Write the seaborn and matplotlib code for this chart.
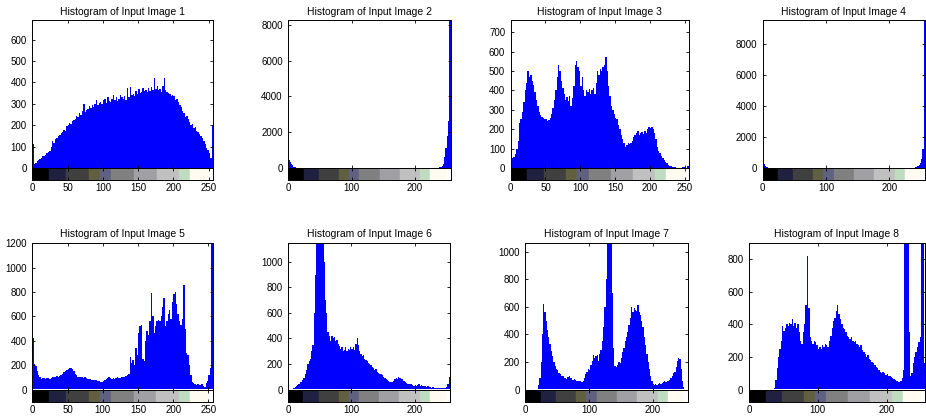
import numpy as np
import pandas as pd
import matplotlib
matplotlib.use("Agg")
import matplotlib.pyplot as plt
import seaborn as sns

# ---------------- data (grey levels 0,2,...,254 ; counts per 2-level bin) ----------------
levels = list(range(0, 256, 2))

hist1 = [110, 18, 25, 32, 38, 42, 48, 55, 58, 62, 70, 75, 78, 100, 125, 115,
         135, 140, 150, 155, 165, 170, 180, 175, 195, 200, 210, 205, 220, 225, 230, 245,
         240, 255, 250, 265, 300, 260, 270, 275, 290, 280, 295, 285, 300, 320, 295, 305,
         310, 300, 320, 325, 305, 330, 315, 310, 325, 340, 320, 330, 315, 325, 340, 330,
         325, 335, 320, 375, 330, 380, 340, 345, 335, 360, 345, 370, 350, 355, 375, 360,
         365, 355, 375, 360, 380, 365, 420, 370, 385, 365, 370, 355, 385, 420, 365, 355,
         350, 345, 335, 340, 335, 320, 325, 310, 295, 285, 265, 255, 240, 245, 230, 215,
         200, 205, 185, 190, 175, 170, 160, 150, 140, 125, 110, 95, 85, 70, 45, 200]

hist2 = [420, 330, 230, 140, 80, 45, 25, 15, 10, 8, 6, 5, 4, 4, 3, 3,
         3, 3, 3, 3, 3, 3, 3, 3, 3, 3, 3, 3, 3, 3, 3, 3,
         3, 3, 3, 3, 3, 3, 3, 3, 3, 3, 3, 3, 3, 3, 3, 3,
         3, 3, 3, 3, 3, 3, 3, 3, 3, 3, 3, 3, 3, 3, 3, 3,
         3, 3, 3, 3, 3, 3, 3, 3, 3, 3, 3, 3, 3, 3, 3, 3,
         3, 3, 3, 3, 3, 3, 3, 3, 3, 3, 3, 3, 3, 3, 3, 3,
         3, 3, 3, 3, 3, 3, 3, 3, 3, 3, 3, 3, 4, 4, 5, 5,
         6, 8, 10, 12, 15, 20, 25, 35, 50, 100, 250, 600, 1100, 1800, 2600, 8240]

hist3 = [170, 50, 55, 70, 100, 140, 230, 250, 290, 340, 400, 440, 500, 470, 480, 450,
         430, 390, 350, 320, 290, 275, 265, 260, 250, 255, 240, 245, 260, 280, 310, 350,
         400, 470, 530, 500, 450, 410, 380, 350, 365, 345, 370, 320, 360, 420, 530, 550,
         520, 500, 420, 470, 400, 370, 400, 390, 405, 380, 400, 410, 380, 440, 500, 480,
         510, 500, 520, 530, 570, 500, 420, 370, 320, 300, 280, 260, 250, 220, 200, 170,
         150, 130, 110, 120, 130, 125, 130, 140, 160, 170, 180, 190, 170, 180, 185, 175,
         190, 180, 200, 210, 205, 210, 200, 180, 150, 110, 90, 75, 60, 50, 40, 30,
         25, 18, 12, 8, 6, 4, 3, 2, 2, 2, 2, 3, 5, 3, 2, 10]

hist4 = [400, 260, 130, 60, 30, 15, 8, 5, 3, 2, 2, 1, 1, 1, 1, 1,
         1, 1, 1, 1, 1, 1, 1, 1, 1, 1, 1, 1, 1, 1, 1, 1,
         1, 1, 1, 1, 1, 1, 1, 1, 1, 1, 1, 1, 1, 1, 1, 1,
         1, 1, 1, 1, 1, 1, 1, 1, 1, 1, 1, 1, 1, 1, 1, 1,
         1, 1, 1, 1, 1, 1, 1, 1, 1, 1, 1, 1, 1, 1, 1, 1,
         1, 1, 1, 1, 1, 1, 1, 1, 1, 1, 1, 1, 1, 1, 1, 1,
         1, 1, 1, 1, 1, 1, 1, 1, 1, 1, 1, 1, 2, 2, 2, 2,
         3, 4, 5, 7, 10, 14, 20, 30, 45, 70, 100, 200, 350, 600, 1200, 9500]

hist5 = [420, 210, 190, 150, 120, 100, 85, 95, 95, 90, 95, 95, 90, 95, 100, 100,
         105, 110, 105, 110, 115, 125, 140, 150, 160, 170, 180, 175, 165, 150, 130, 115,
         105, 100, 100, 105, 95, 100, 95, 90, 90, 85, 80, 80, 75, 75, 70, 70,
         65, 65, 70, 80, 90, 95, 100, 95, 90, 95, 90, 95, 100, 95, 95, 100,
         100, 105, 110, 120, 130, 270, 220, 240, 200, 340, 280, 460, 520, 530, 250, 230,
         400, 480, 450, 560, 790, 600, 460, 520, 560, 570, 560, 600, 680, 750, 520, 560,
         620, 650, 580, 720, 780, 800, 700, 620, 560, 530, 580, 860, 500, 300, 280, 200,
         120, 60, 50, 45, 40, 45, 40, 35, 45, 30, 20, 50, 70, 120, 180, 1205]

hist6 = [0, 0, 0, 5, 10, 20, 30, 35, 45, 55, 60, 75, 90, 120, 150, 200,
         220, 240, 300, 350, 600, 900, 1200, 1200, 1200, 1200, 1200, 1200, 1000, 700, 600, 450,
         420, 380, 420, 400, 410, 380, 390, 360, 340, 320, 330, 300, 310, 330, 300, 320,
         310, 330, 320, 330, 310, 360, 400, 350, 300, 280, 260, 270, 240, 230, 220, 210,
         200, 190, 180, 170, 150, 160, 140, 130, 120, 120, 110, 100, 90, 80, 75, 70,
         60, 55, 60, 70, 80, 90, 85, 95, 90, 85, 80, 70, 60, 50, 45, 40,
         45, 40, 35, 30, 35, 30, 35, 40, 30, 35, 30, 25, 25, 20, 25, 20,
         20, 15, 20, 15, 15, 12, 10, 12, 15, 10, 12, 10, 15, 20, 40, 100]

hist7 = [0, 0, 0, 0, 0, 0, 0, 0, 0, 5, 30, 80, 200, 400, 620, 560,
         500, 430, 380, 330, 280, 240, 200, 170, 150, 140, 120, 110, 100, 95, 85, 80,
         75, 90, 100, 85, 80, 70, 75, 70, 65, 60, 65, 60, 55, 60, 80, 110,
         130, 150, 140, 180, 210, 250, 230, 240, 250, 210, 260, 290, 350, 450, 600, 800,
         1100, 1100, 1100, 1100, 700, 300, 170, 160, 180, 200, 190, 230, 270, 300, 350, 380,
         420, 470, 520, 600, 560, 590, 580, 570, 610, 560, 540, 500, 450, 380, 320, 260,
         200, 150, 100, 60, 40, 30, 40, 35, 40, 45, 40, 50, 55, 60, 55, 65,
         60, 70, 80, 100, 120, 130, 160, 210, 230, 220, 150, 60, 20, 5, 2, 2]

hist8 = [0, 0, 0, 0, 0, 0, 0, 0, 0, 0, 0, 0, 0, 0, 0, 0,
         0, 0, 10, 60, 130, 200, 250, 300, 390, 360, 380, 400, 390, 410, 400, 430,
         390, 410, 380, 400, 350, 300, 280, 350, 400, 520, 820, 500, 320, 300, 280, 300,
         290, 270, 250, 260, 250, 270, 260, 280, 270, 260, 300, 330, 380, 420, 440, 480,
         520, 460, 430, 400, 380, 370, 350, 330, 320, 310, 320, 300, 290, 300, 280, 270,
         260, 270, 240, 230, 220, 200, 210, 190, 180, 170, 160, 150, 140, 130, 120, 110,
         100, 110, 100, 90, 95, 85, 80, 75, 70, 65, 60, 50, 45, 45, 55, 70,
         120, 950, 950, 950, 350, 80, 100, 160, 200, 230, 260, 290, 320, 950, 950, 160]

histograms = [hist1, hist2, hist3, hist4, hist5, hist6, hist7, hist8]
titles = ["Histogram of Input Image %d" % i for i in range(1, 9)]
y_limits = [690, 8240, 760, 9500, 1205, 1150, 1065, 900]
y_tick_max = [600, 8000, 700, 8000, 1200, 1000, 1000, 800]
y_steps = [100, 2000, 100, 2000, 200, 200, 200, 200]
x_steps = [50, 100, 50, 100, 50, 100, 100, 100]

# colormap strip (indexed-image palette)
cmap_edges = [0, 24, 48, 80, 96, 112, 144, 176, 208, 224, 250, 256]
cmap_colors = ["#000000", "#202040", "#404040", "#606040", "#606080", "#808080",
               "#a0a0a4", "#c0c0c0", "#c0dcc0", "#fffbf0", "#ffffff"]

# ---------------- layout (pixels) ----------------
W, H = 926, 417
col_x = [(32.3, 213.0), (288.3, 450.5), (510.7, 688.7), (762.5, 925.0),
         (32.3, 212.7), (288.3, 450.0), (525.3, 688.3), (749.0, 925.0)]
rows_y = [(20.5, 168.0, 180.0), (242.7, 389.5, 402.0)]

plt.rcParams["font.family"] = ["Liberation Sans", "DejaVu Sans"]
fig = plt.figure(figsize=(W / 100, H / 100), dpi=100)
fig.patch.set_facecolor("white")

for i in range(8):
    left, right = col_x[i]
    top, hb, cb = rows_y[i // 4]
    ax = fig.add_axes([left / W, 1 - hb / H, (right - left) / W, (hb - top) / H])
    cax = fig.add_axes([left / W, 1 - cb / H, (right - left) / W, (cb - hb) / H])

    df = pd.DataFrame({"level": levels, "count": histograms[i]})
    sns.histplot(data=df, x="level", weights="count", binwidth=2, binrange=(0, 256),
                 element="step", fill=True, color="#0000ff", alpha=1, linewidth=0, ax=ax)
    ax.set_xlim(0, 256)
    ax.set_ylim(0, y_limits[i])
    ax.set_xlabel("")
    ax.set_ylabel("")
    ax.set_xticks(list(range(0, 256, x_steps[i])))
    ax.set_yticks(list(range(0, y_tick_max[i] + 1, y_steps[i])))
    ax.tick_params(direction="in", length=2.5, width=0.6, top=True, right=True,
                   labelbottom=False, labelsize=7, pad=4, colors="black")
    for s in ax.spines.values():
        s.set_linewidth(0.7)
        s.set_color("black")
    ax.set_title(titles[i], fontsize=7.5, pad=4)

    cax.bar(cmap_edges[:-1], [1] * (len(cmap_edges) - 1), width=np.diff(cmap_edges),
            align="edge", color=cmap_colors, edgecolor=cmap_colors, linewidth=0.3)
    cax.set_xlim(0, 256)
    cax.set_ylim(0, 1)
    cax.set_yticks([])
    cax.set_xticks(list(range(0, 256, x_steps[i])))
    cax.tick_params(direction="in", length=2, width=0.6, top=True, labelsize=7, pad=2.5,
                    colors="black")
    for s in cax.spines.values():
        s.set_linewidth(0.7)
        s.set_color("black")

fig.savefig("out.png", dpi=100, facecolor="white")
